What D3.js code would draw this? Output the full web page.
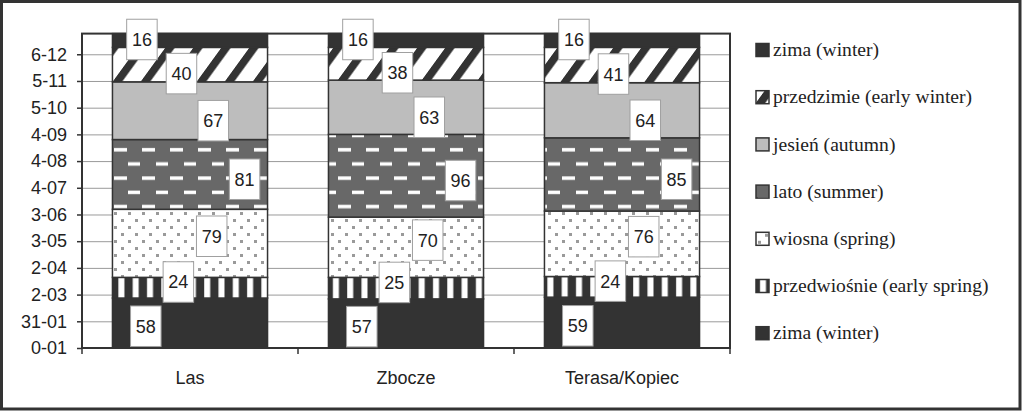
<!DOCTYPE html>
<html>
<head>
<meta charset="utf-8">
<script src="https://cdn.jsdelivr.net/npm/d3@7/dist/d3.min.js"></script>
<style>
    body { margin: 0; background: #fff; }
    text { fill: #222; }
</style>
</head>
<body>
<div id="chart"></div>
<script>
// days of the year spent in each season, per site
const sites = ["Las", "Zbocze", "Terasa/Kopiec"];
const seasons = ["zima (winter)", "przedwiośnie (early spring)", "wiosna (spring)", "lato (summer)",
                 "jesień (autumn)", "przedzimie (early winter)", "zima (winter)"];
const lasDays = [58, 24, 79, 81, 67, 40, 16];
const zboczeDays = [57, 25, 70, 96, 63, 38, 16];
const terasaDays = [59, 24, 76, 85, 64, 41, 16];
const tickDays = [0, 31, 62, 93, 124, 155, 186, 217, 248, 279, 310, 341];
const tickLabels = ["0-01", "31-01", "2-03", "2-04", "3-05", "3-06", "4-07", "4-08", "4-09", "5-10", "5-11", "6-12"];

const daysBySite = [lasDays, zboczeDays, terasaDays];
const table = sites.map((s, i) => {
    const row = { site: s };
    seasons.forEach((_, j) => row["s" + j] = daysBySite[i][j]);
    return row;
});
const keys = seasons.map((_, j) => "s" + j);
const stacked = d3.stack().keys(keys)(table);

const svg = d3.select("#chart").append("svg")
    .attr("width", 1023).attr("height", 412);

// frame round the whole chart
svg.append("rect")
    .attr("x", 1.5).attr("y", 1.5)
    .attr("width", 1018.5).attr("height", 407.5)
    .attr("fill", "#fff")
    .attr("stroke", "#333").attr("stroke-width", 3);

const defs = svg.append("defs");

// przedzimie: diagonal stripes
const pDiag = defs.append("pattern").attr("id", "pDiag")
    .attr("patternUnits", "userSpaceOnUse").attr("width", 28).attr("height", 28)
    .attr("patternTransform", "skewX(-36)");
pDiag.append("rect").attr("width", 28).attr("height", 28).attr("fill", "#fff");
pDiag.append("rect").attr("x", 4).attr("width", 9.5).attr("height", 28).attr("fill", "#333");

// lato: white dashes on dark grey
const pDash = defs.append("pattern").attr("id", "pDash")
    .attr("patternUnits", "userSpaceOnUse").attr("width", 28).attr("height", 28.4);
pDash.append("rect").attr("width", 28).attr("height", 28.4).attr("fill", "#686868");
pDash.append("rect").attr("x", 2).attr("y", 6).attr("width", 13).attr("height", 3.5).attr("fill", "#fff");
pDash.append("rect").attr("x", 16).attr("y", 20.2).attr("width", 13).attr("height", 3.5).attr("fill", "#fff");

// wiosna: grey dots
const pDots = defs.append("pattern").attr("id", "pDots")
    .attr("patternUnits", "userSpaceOnUse").attr("width", 14).attr("height", 14);
pDots.append("rect").attr("width", 14).attr("height", 14).attr("fill", "#fff");
pDots.append("rect").attr("x", 2).attr("y", 2).attr("width", 3).attr("height", 3).attr("fill", "#9a9a9a");
pDots.append("rect").attr("x", 9).attr("y", 9).attr("width", 3).attr("height", 3).attr("fill", "#9a9a9a");

// przedwiośnie: vertical stripes
const pVert = defs.append("pattern").attr("id", "pVert")
    .attr("patternUnits", "userSpaceOnUse").attr("width", 14.3).attr("height", 10);
pVert.append("rect").attr("width", 14.3).attr("height", 10).attr("fill", "#333");
pVert.append("rect").attr("x", 4).attr("width", 6).attr("height", 10).attr("fill", "#fff");

const fills = ["#333", "url(#pVert)", "url(#pDots)", "url(#pDash)", "#bdbdbd", "url(#pDiag)", "#333"];

const x = d3.scaleBand().domain(sites).range([82, 730]).paddingInner(0.282).paddingOuter(0.141);
const y = d3.scaleLinear().domain([0, 365]).range([348, 33.6]);

// gridlines
svg.append("g")
    .attr("transform", "translate(82, 0)")
    .call(d3.axisLeft(y).tickValues(tickDays.slice(1)).tickSize(-648).tickFormat(""))
    .call(g => g.select(".domain").remove())
    .call(g => g.selectAll("line").attr("stroke", "#9a9a9a").attr("stroke-width", 1));

// y axis with the day-month labels
svg.append("g")
    .attr("transform", "translate(82, 0)")
    .call(d3.axisLeft(y).tickValues(tickDays).tickSize(5).tickPadding(10)
        .tickFormat((d, i) => tickLabels[i]))
    .call(g => g.select(".domain").remove())
    .call(g => g.selectAll("line").attr("stroke", "#333").attr("stroke-width", 1.5))
    .call(g => g.selectAll("text")
        .style("font-family", "'Liberation Sans', Arial, sans-serif")
        .style("font-size", "18px").attr("fill", "#222"));

// stacked bars
const layers = svg.selectAll(".layer")
    .data(stacked)
    .join("g")
    .attr("class", "layer")
    .attr("fill", (_, i) => fills[i]);

layers.selectAll("rect")
    .data(d => d)
    .join("rect")
    .attr("x", d => x(d.data.site))
    .attr("y", d => y(d[1]))
    .attr("width", x.bandwidth())
    .attr("height", d => y(d[0]) - y(d[1]))
    .attr("stroke", "#333")
    .attr("stroke-width", 1.5);

// plot area border
svg.append("rect")
    .attr("x", 82).attr("y", y(365))
    .attr("width", 648).attr("height", y(0) - y(365))
    .attr("fill", "none").attr("stroke", "#333").attr("stroke-width", 2);

// category ticks sit on band edges
const edges = sites.map(s => x(s) - (x.step() - x.bandwidth()) / 2).concat([730]);
svg.append("g").selectAll("line")
    .data(edges)
    .join("line")
    .attr("x1", d => d).attr("x2", d => d)
    .attr("y1", y(0)).attr("y2", y(0) + 6)
    .attr("stroke", "#333").attr("stroke-width", 1.5);

svg.append("g")
    .attr("transform", `translate(0, ${y(0)})`)
    .call(d3.axisBottom(x).tickSize(0).tickPadding(23))
    .call(g => g.select(".domain").remove())
    .call(g => g.selectAll("text")
        .style("font-family", "'Liberation Sans', Arial, sans-serif")
        .style("font-size", "18px").attr("fill", "#222"));

// value labels, staggered across the bar the way the original places them
const labelAcross = [0.215, 0.425, 0.64, 0.852, 0.65, 0.445, 0.19];
const labelNudge = [3.2, -5.7, -7.1, 4.8, 10, 9, -1];
const boxW = 30.5, boxH = 40.5;

const labels = svg.selectAll(".vlabel")
    .data(stacked.flatMap((layer, i) => layer.map(d => ({ i, d }))))
    .join("g")
    .attr("class", "vlabel")
    .attr("transform", ({ i, d }) => {
        const cx = x(d.data.site) + x.bandwidth() * labelAcross[i];
        const cy = (y(d[0]) + y(d[1])) / 2 + labelNudge[i];
        return `translate(${cx}, ${cy})`;
    });

labels.append("rect")
    .attr("x", -boxW / 2).attr("y", -boxH / 2)
    .attr("width", boxW).attr("height", boxH)
    .attr("fill", "#fff")
    .attr("stroke", "#a0a0a0").attr("stroke-width", 1);

labels.append("text")
    .attr("text-anchor", "middle")
    .attr("dy", "0.36em")
    .style("font-family", "'Liberation Sans', Arial, sans-serif")
    .style("font-size", "18px")
    .text(({ d }) => d[1] - d[0]);

// legend, top entry first
const legend = svg.selectAll(".legend")
    .data(seasons.map((s, i) => ({ s, i })).reverse())
    .join("g")
    .attr("class", "legend")
    .attr("transform", (_, k) => `translate(756, ${50 + k * 47.2})`);

legend.append("rect")
    .attr("x", 0).attr("y", -6.5)
    .attr("width", 13).attr("height", 13)
    .attr("fill", d => fills[d.i])
    .attr("stroke", "#333").attr("stroke-width", 1.5);

legend.append("text")
    .attr("x", 17)
    .attr("dy", "0.32em")
    .style("font-family", "'Liberation Serif', 'Times New Roman', serif")
    .style("font-size", "19.6px")
    .text(d => d.s);
</script>
</body>
</html>
